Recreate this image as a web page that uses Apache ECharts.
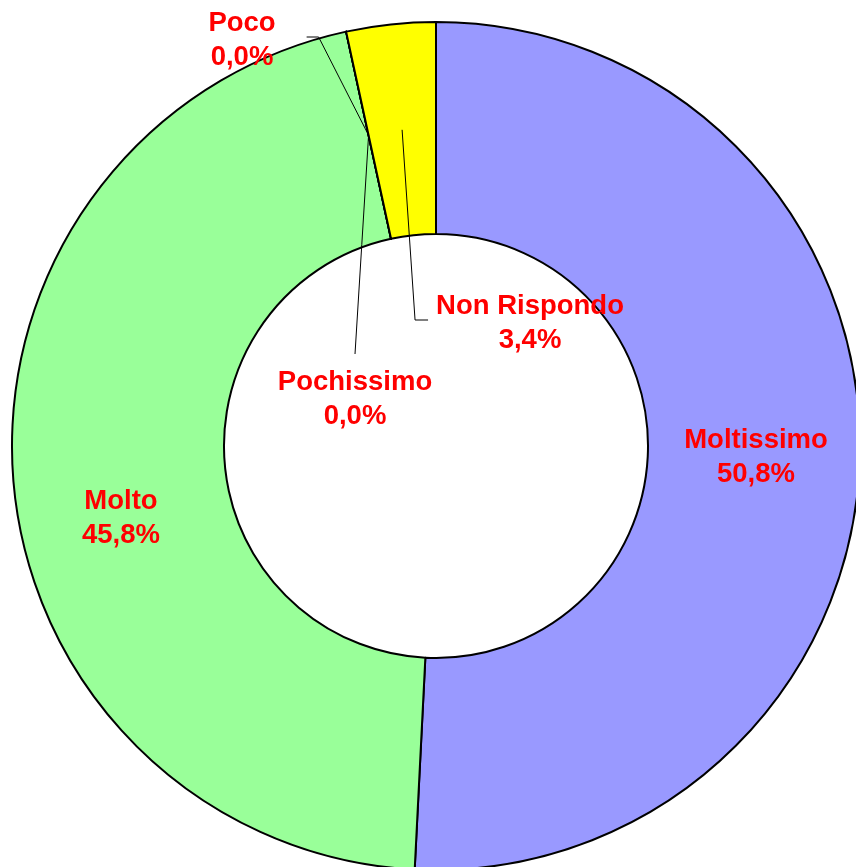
<!DOCTYPE html>
<html>
<head>
<meta charset="utf-8">
<script src="https://cdn.jsdelivr.net/npm/echarts@6/dist/echarts.min.js"></script>
<style>
  html, body { margin: 0; padding: 0; background: #fff; }
  #chart { width: 856px; height: 867px; }
</style>
</head>
<body>
<div id="chart"></div>
<script>
// dati (percentuali)
var categories = ['Moltissimo', 'Molto', 'Poco', 'Pochissimo', 'Non Rispondo'];
var percentuali = [50.8, 45.8, 0.0, 0.0, 3.4];
var colori = ['#9999FF', '#99FF99', '#99FF99', '#99FF99', '#FFFF00'];

// posizione delle etichette (centro del blocco di testo)
var labelPos = [[756, 457], [121, 518], [242, 40], [355, 399], [530, 323]];

var dom = document.getElementById('chart');
var chart = echarts.init(dom);

function fmt(v) {
    return v.toFixed(1).replace('.', ',') + '%';
}

// punto a metà dello spessore della fetta
function anchorOf(sIdx, idx) {
    var lay = chart.getModel().getSeriesByIndex(sIdx).getData().getItemLayout(idx);
    var a = (lay.startAngle + lay.endAngle) / 2;
    var rm = (lay.r + lay.r0) / 2;
    return [lay.cx + rm * Math.cos(a), lay.cy + rm * Math.sin(a)];
}

var fette = [], etichette = [];
for (var i = 0; i < categories.length; ++i) {
    fette.push({
        name: categories[i],
        value: percentuali[i],
        itemStyle: { color: colori[i] }
    });
    etichette.push({
        name: categories[i],
        value: percentuali[i],
        labelLine: { show: i >= 2 }
    });
}

var base = {
    type: 'pie',
    center: [436, 446],
    radius: [212, 424],
    startAngle: 90,
    clockwise: true,
    avoidLabelOverlap: false,
    stillShowZeroSum: true,
    minShowLabelAngle: 0,
    silent: true
};

var option = {
    animation: false,
    series: [
        // fette
        echarts.util.merge({
            z: 2,
            itemStyle: { borderColor: '#000', borderWidth: 2 },
            label: { show: false },
            labelLine: { show: false },
            data: fette
        }, base),
        // etichette e linee guida sopra le fette
        echarts.util.merge({
            z: 5,
            itemStyle: { color: 'rgba(0,0,0,0)', borderWidth: 0 },
            label: {
                show: true,
                position: 'outside',
                color: '#FF0000',
                fontFamily: "'Liberation Sans', Arial, sans-serif",
                fontWeight: 'bold',
                fontSize: 27.5,
                lineHeight: 34,
                align: 'center',
                formatter: function (p) { return p.name + '\n' + fmt(p.value); }
            },
            labelLine: {
                show: true,
                showAbove: true,
                lineStyle: { color: '#000', width: 1 }
            },
            labelLayout: function (p) {
                var idx = p.dataIndex;
                var lx = labelPos[idx][0], ly = labelPos[idx][1];
                var w = p.labelRect.width, h = p.labelRect.height;
                var res = { x: lx, y: ly, align: 'center', verticalAlign: 'middle' };
                var an = anchorOf(p.seriesIndex, idx);
                if (idx === 2) {
                    res.labelLinePoints = [an, [lx + w / 2 + 43, ly - 3], [lx + w / 2 + 31, ly - 3]];
                } else if (idx === 3) {
                    res.labelLinePoints = [an, [(an[0] + lx) / 2, (an[1] + ly - h / 2 - 11) / 2], [lx, ly - h / 2 - 11]];
                } else if (idx === 4) {
                    res.labelLinePoints = [an, [lx - w / 2 - 21, ly - 3], [lx - w / 2 - 8, ly - 3]];
                }
                return res;
            },
            data: etichette
        }, base)
    ]
};
chart.setOption(option);
</script>
</body>
</html>
